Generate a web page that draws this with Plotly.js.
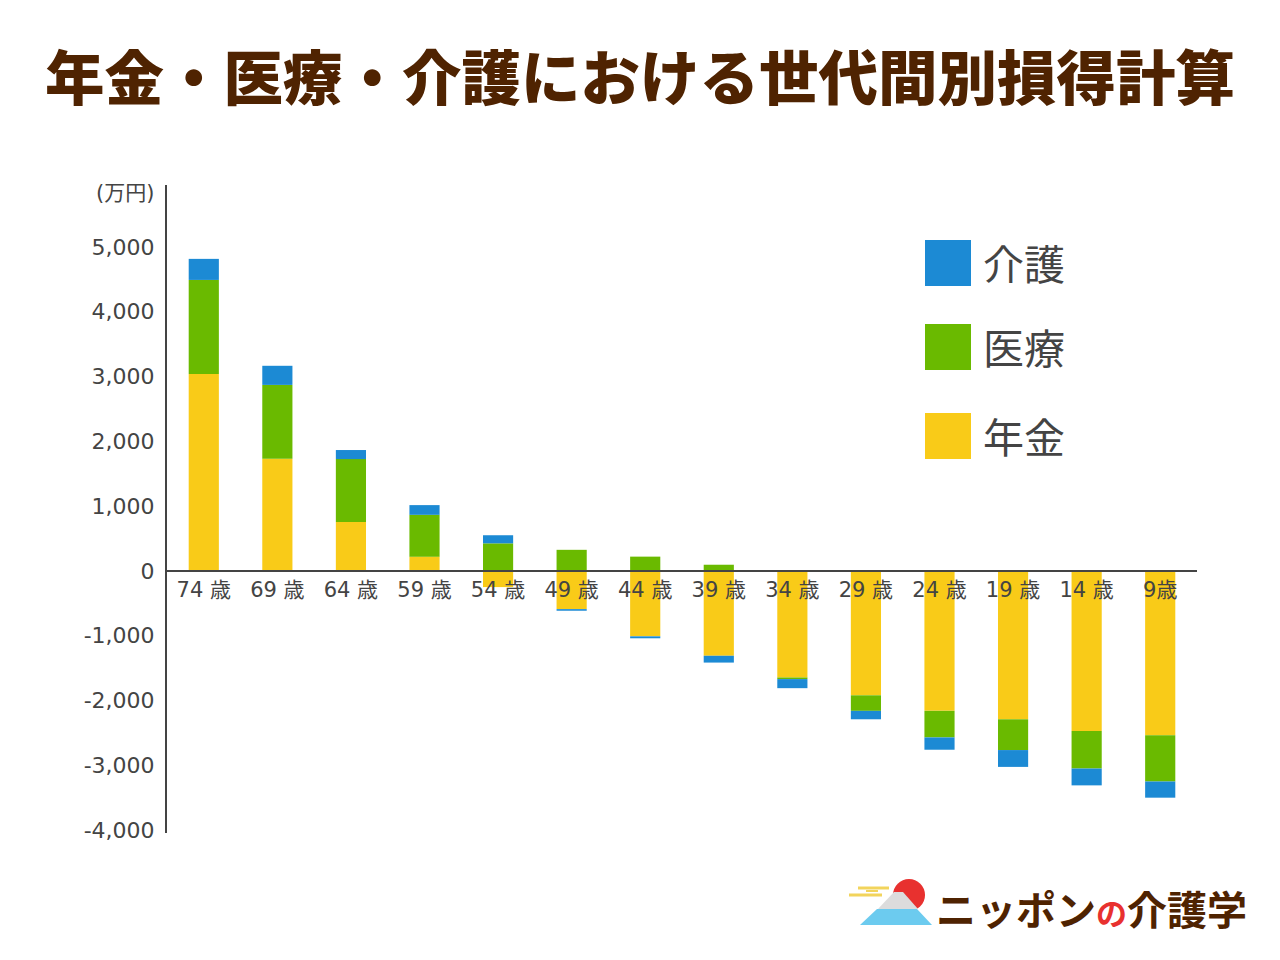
<!DOCTYPE html>
<html>
<head>
<meta charset="utf-8">
<script src="https://cdn.plot.ly/plotly-3.0.1.min.js"></script>
<style>
  html, body { margin: 0; padding: 0; background: #ffffff; }
  #chart { width: 1280px; height: 960px; }
</style>
</head>
<body>
<div id="chart"></div>
<script>
// ---- data (万円) ----
const categories = ["74 歳", "69 歳", "64 歳", "59 歳", "54 歳", "49 歳", "44 歳", "39 歳", "34 歳", "29 歳", "24 歳", "19 歳", "14 歳", "9歳"];
const pension = [3040, 1730, 755, 220, -250, -590, -1010, -1310, -1645, -1920, -2160, -2290, -2470, -2535];
const medical = [1450, 1140, 970, 645, 425, 325, 220, 95, -25, -240, -410, -475, -580, -715];
const care    = [325, 295, 140, 150, 125, -25, -30, -105, -140, -130, -190, -260, -260, -250];
const seriesNames = ["年金", "医療", "介護"];
const yTickVals = [5000, 4000, 3000, 2000, 1000, 0, -1000, -2000, -3000, -4000];
const yTickText = ["5,000", "4,000", "3,000", "2,000", "1,000", "0", "-1,000", "-2,000", "-3,000", "-4,000"];

// ---- styles ----
const colors = { "年金": "#f9cb18", "医療": "#6aba00", "介護": "#1c8ad4" };
const FONT = '"Noto Sans CJK JP", "Noto Sans", sans-serif';
const NUMFONT = '"DejaVu Sans", "Noto Sans CJK JP", sans-serif';
const TEXT = "#444444";
const BROWN = "#4f2301";
const W = 1280, H = 960;
const M = { l: 167, r: 83, t: 185, b: 127 };
const yRange = [-4045, 5955];

const plotW = W - M.l - M.r, plotH = H - M.t - M.b;
const px = x => (x - M.l) / plotW;
const py = y => (H - M.b - y) / plotH;

const seriesValues = { "年金": pension, "医療": medical, "介護": care };
const traces = seriesNames.map(name => ({
  type: "bar",
  name: name,
  x: categories,
  y: seriesValues[name],
  marker: { color: colors[name], line: { width: 0 } },
  hoverinfo: "x+y+name",
  showlegend: false
}));

// custom legend (big squares), top to bottom: 介護, 医療, 年金
const legendOrder = ["介護", "医療", "年金"];
const legendTop = [240, 324, 413];
const shapes = [];
const annotations = [];
legendOrder.forEach((name, i) => {
  shapes.push({
    type: "rect", xref: "paper", yref: "paper",
    x0: px(925), x1: px(971), y0: py(legendTop[i] + 46), y1: py(legendTop[i]),
    fillcolor: colors[name], line: { width: 0 }
  });
  annotations.push({
    xref: "paper", yref: "paper", x: px(981), y: py(legendTop[i] + 22),
    xanchor: "left", yanchor: "middle", showarrow: false,
    text: name, font: { family: FONT, size: 41, color: TEXT }
  });
});

// unit label
annotations.push({
  xref: "paper", yref: "paper", x: px(156), y: py(193),
  xanchor: "right", yanchor: "middle", showarrow: false,
  text: "(万円)", font: { family: NUMFONT, size: 21, color: TEXT }
});

// logo: yellow lines, sun, snow cap, mountain
const logoShapes = [
  { x0: 858, y0: 888, x1: 889, y1: 888, color: "#f2d45c", w: 3 },
  { x0: 849, y0: 895, x1: 882, y1: 895, color: "#f2d45c", w: 3 },
  { x0: 866, y0: 891, x1: 878, y1: 891, color: "#f2d45c", w: 2 }
];
logoShapes.forEach(s => shapes.push({
  type: "line", xref: "paper", yref: "paper",
  x0: px(s.x0), y0: py(s.y0), x1: px(s.x1), y1: py(s.y1),
  line: { color: s.color, width: s.w }
}));
shapes.push({
  type: "circle", xref: "paper", yref: "paper",
  x0: px(893), x1: px(925), y0: py(911), y1: py(879),
  fillcolor: "#e8312f", line: { width: 0 }
});
const pathOf = pts => "M" + pts.map(p => px(p[0]).toFixed(5) + "," + py(p[1]).toFixed(5)).join(" L") + " Z";
shapes.push({
  type: "path", xref: "paper", yref: "paper",
  path: pathOf([[878, 909], [894, 892], [903, 892], [918, 909]]),
  fillcolor: "#dcdcdc", line: { width: 0 }
});
shapes.push({
  type: "path", xref: "paper", yref: "paper",
  path: pathOf([[877, 909], [917, 909], [932, 925], [860, 925]]),
  fillcolor: "#6ccbef", line: { width: 0 }
});
annotations.push({
  xref: "paper", yref: "paper", x: px(934), y: py(908),
  xanchor: "left", yanchor: "middle", showarrow: false,
  text: "ニッポン<span style=\"color:#e8312f;font-size:31px\">の</span>介護学",
  font: { family: FONT, size: 40, color: BROWN, weight: 700 }
});

const layout = {
  width: W, height: H,
  margin: M,
  paper_bgcolor: "#ffffff",
  plot_bgcolor: "#ffffff",
  barmode: "relative",
  bargap: 0.59,
  showlegend: false,
  font: { family: FONT, color: TEXT },
  title: {
    text: "年金・医療・介護における世代間別損得計算",
    x: 0.5, xref: "container", xanchor: "center",
    y: 1 - 79 / H, yref: "container", yanchor: "middle",
    font: { family: FONT, size: 59.5, color: BROWN, weight: 900 }
  },
  xaxis: {
    type: "category",
    anchor: "free",
    position: (0 - yRange[0]) / (yRange[1] - yRange[0]),
    showline: true, linecolor: "#444444", linewidth: 2,
    showgrid: false, zeroline: false,
    ticks: "", ticklen: 0,
    tickfont: { family: NUMFONT, size: 21, color: TEXT },
    layer: "above traces",
    fixedrange: true
  },
  yaxis: {
    range: yRange,
    showline: true, linecolor: "#444444", linewidth: 2,
    showgrid: false, zeroline: false,
    tickmode: "array", tickvals: yTickVals, ticktext: yTickText,
    ticks: "outside", ticklen: 6, tickcolor: "rgba(0,0,0,0)",
    tickfont: { family: NUMFONT, size: 22, color: TEXT },
    fixedrange: true
  },
  shapes: shapes,
  annotations: annotations
};

Plotly.newPlot("chart", traces, layout, { displayModeBar: false, staticPlot: true });
</script>
</body>
</html>
